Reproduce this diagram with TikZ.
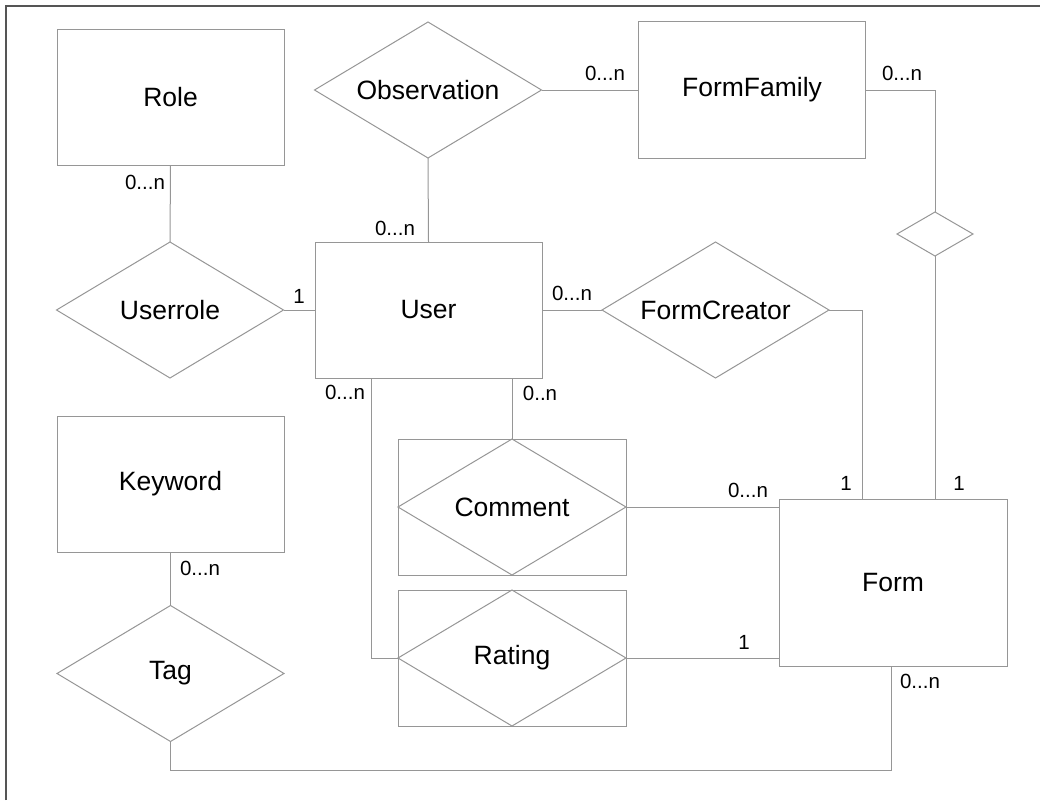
\documentclass[tikz,border=0pt]{standalone}
\usepackage{fontspec}
\setmainfont{Liberation Sans}
\usetikzlibrary{shapes.geometric}

\definecolor{linegray}{RGB}{150,150,150}
\definecolor{framegray}{RGB}{85,85,85}

\tikzset{
    entity/.style={draw=linegray, line width=1pt, rectangle, minimum width=227pt, minimum height=136pt,
        inner sep=0pt, outer sep=0pt, font=\fontsize{26.5}{30}\selectfont},
    relation/.style={draw=linegray, line width=1pt, diamond, aspect=1.67, minimum width=227pt, minimum height=136pt,
        inner sep=0pt, outer sep=0pt, font=\fontsize{26.5}{30}\selectfont},
    card/.style={inner sep=0pt, font=\fontsize{20.5}{24}\selectfont},
    link/.style={draw=linegray, line width=1pt}
}

\begin{document}
\begin{tikzpicture}[x=1pt,y=-1pt]
    \useasboundingbox (0,0) rectangle (1040,800);
    \draw[framegray, line width=2pt] (6,800) -- (6,6) -- (1040,6);

    % entities and relations
    \node[entity] (role) at (170.5,97.5) {Role};
    \node[relation] (obs) at (428,90) {Observation};
    \node[entity] (ffam) at (752,90) {FormFamily};
    \node[relation] (urole) at (170,310) {Userrole};
    \node[entity] (user) at (428.5,310) {User};
    \node[relation] (fcr) at (715.5,310) {FormCreator};
    \node[relation, minimum width=76pt, minimum height=44pt] (rel) at (935,234) {};
    \node[entity] (kw) at (170.5,484) {Keyword};
    \node[relation] (tag) at (170.5,673.5) {Tag};
    \node[entity, minimum width=228pt] (commbox) at (512,507) {};
    \node[relation, minimum width=228pt] (comm) at (512,507) {Comment};
    \node[entity, minimum width=228pt] (ratebox) at (512,658) {};
    \node[relation, minimum width=228pt] (rate) at (512,658) {Rating};
    \node[entity, minimum width=228pt, minimum height=167pt] (form) at (893,582.5) {Form};

    % connectors
    \draw[link] (role.south) -- (urole.north);
    \draw[link] (urole.east) -- (user.west);
    \draw[link] (obs.south) -- (user.north);
    \draw[link] (obs.east) -- (ffam.west);
    \draw[link] (ffam.east) -| (rel.north);
    \draw[link] (rel.south) -- (rel.south |- form.north);
    \draw[link] (user.east) -- (fcr.west);
    \draw[link] (fcr.east) -| ([xshift=-31pt]form.north);
    \draw[link] (user.south -| comm.north) -- (comm.north);
    \draw[link] (comm.east) -- (comm.east -| form.west);
    \draw[link] ([xshift=-57.5pt]user.south) |- (rate.west);
    \draw[link] (rate.east) -- (rate.east -| form.west);
    \draw[link] (kw.south) -- (tag.north);
    \draw[link] (tag.south) -- ++(0,29) -| ([xshift=-2pt]form.south);

    % cardinalities
    \node[card] (roleN) at (145,182) {0...n};
    \node[card] (uroleOne) at (299,296) {1};
    \node[card] (obsN) at (395,228) {0...n};
    \node[card] (ffamN) at (605,73) {0...n};
    \node[card] (ffamRelN) at (902,73) {0...n};
    \node[card] (fcrN) at (572,293) {0...n};
    \node[card] (rateN) at (345,392) {0...n};
    \node[card] (commN) at (540,393) {0..n};
    \node[card] (formCommN) at (748,490) {0...n};
    \node[card] (formFcrOne) at (846,483) {1};
    \node[card] (formRelOne) at (959,483) {1};
    \node[card] (formRateOne) at (744,642) {1};
    \node[card] (formTagN) at (920,681) {0...n};
    \node[card] (kwN) at (200,568) {0...n};
\end{tikzpicture}
\end{document}
